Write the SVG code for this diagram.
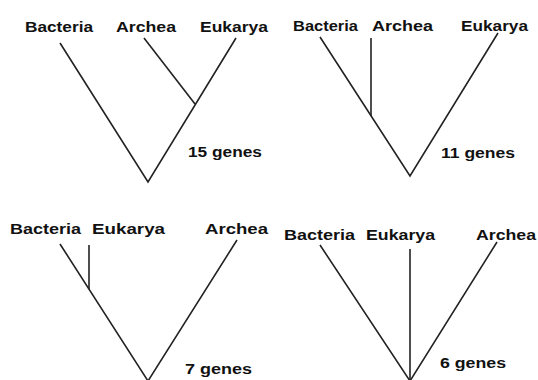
<svg xmlns="http://www.w3.org/2000/svg" width="538" height="380" viewBox="0 0 538 380">
<style>
text{font-family:"Liberation Sans",Arial,sans-serif;font-weight:bold;font-size:15px;fill:#111}
.g{font-size:14px}
.e{stroke:#222;stroke-width:1.6;fill:none;stroke-linejoin:miter}
</style>
<rect width="538" height="380" fill="#fff"/>
<g id="connectors">
<polyline class="e" points="60,43 148,182 236,38"/>
<line class="e" x1="144" y1="38" x2="195" y2="104"/>
<polyline class="e" points="320,37 410,176 498,33"/>
<line class="e" x1="371" y1="38" x2="371" y2="116"/>
<polyline class="e" points="60,244 148,381 237,240"/>
<line class="e" x1="89" y1="245" x2="89" y2="289"/>
<polyline class="e" points="320,245 410,381 497,242"/>
<line class="e" x1="410" y1="249" x2="410" y2="381"/>
</g>
<g id="tree1">
<g id="t1-bacteria"><text x="25" y="32" textLength="68" lengthAdjust="spacingAndGlyphs">Bacteria</text></g>
<g id="t1-archea"><text x="116" y="32" textLength="60" lengthAdjust="spacingAndGlyphs">Archea</text></g>
<g id="t1-eukarya"><text x="200" y="32" textLength="68" lengthAdjust="spacingAndGlyphs">Eukarya</text></g>
<g id="t1-genes"><text class="g" x="188" y="157" textLength="74" lengthAdjust="spacingAndGlyphs">15 genes</text></g>
</g>
<g id="tree2">
<g id="t2-bacteria"><text x="293" y="31" textLength="65" lengthAdjust="spacingAndGlyphs">Bacteria</text></g>
<g id="t2-archea"><text x="372" y="31" textLength="61" lengthAdjust="spacingAndGlyphs">Archea</text></g>
<g id="t2-eukarya"><text x="461" y="31" textLength="67" lengthAdjust="spacingAndGlyphs">Eukarya</text></g>
<g id="t2-genes"><text class="g" x="441" y="158" textLength="74" lengthAdjust="spacingAndGlyphs">11 genes</text></g>
</g>
<g id="tree3">
<g id="t3-bacteria"><text x="10" y="234" textLength="71" lengthAdjust="spacingAndGlyphs">Bacteria</text></g>
<g id="t3-eukarya"><text x="92" y="234" textLength="73" lengthAdjust="spacingAndGlyphs">Eukarya</text></g>
<g id="t3-archea"><text x="205" y="234" textLength="63" lengthAdjust="spacingAndGlyphs">Archea</text></g>
<g id="t3-genes"><text class="g" x="185" y="374" textLength="67" lengthAdjust="spacingAndGlyphs">7 genes</text></g>
</g>
<g id="tree4">
<g id="t4-bacteria"><text x="284" y="240" textLength="71" lengthAdjust="spacingAndGlyphs">Bacteria</text></g>
<g id="t4-eukarya"><text x="366" y="240" textLength="69" lengthAdjust="spacingAndGlyphs">Eukarya</text></g>
<g id="t4-archea"><text x="476" y="240" textLength="60" lengthAdjust="spacingAndGlyphs">Archea</text></g>
<g id="t4-genes"><text class="g" x="440" y="368" textLength="66" lengthAdjust="spacingAndGlyphs">6 genes</text></g>
</g>
</svg>
